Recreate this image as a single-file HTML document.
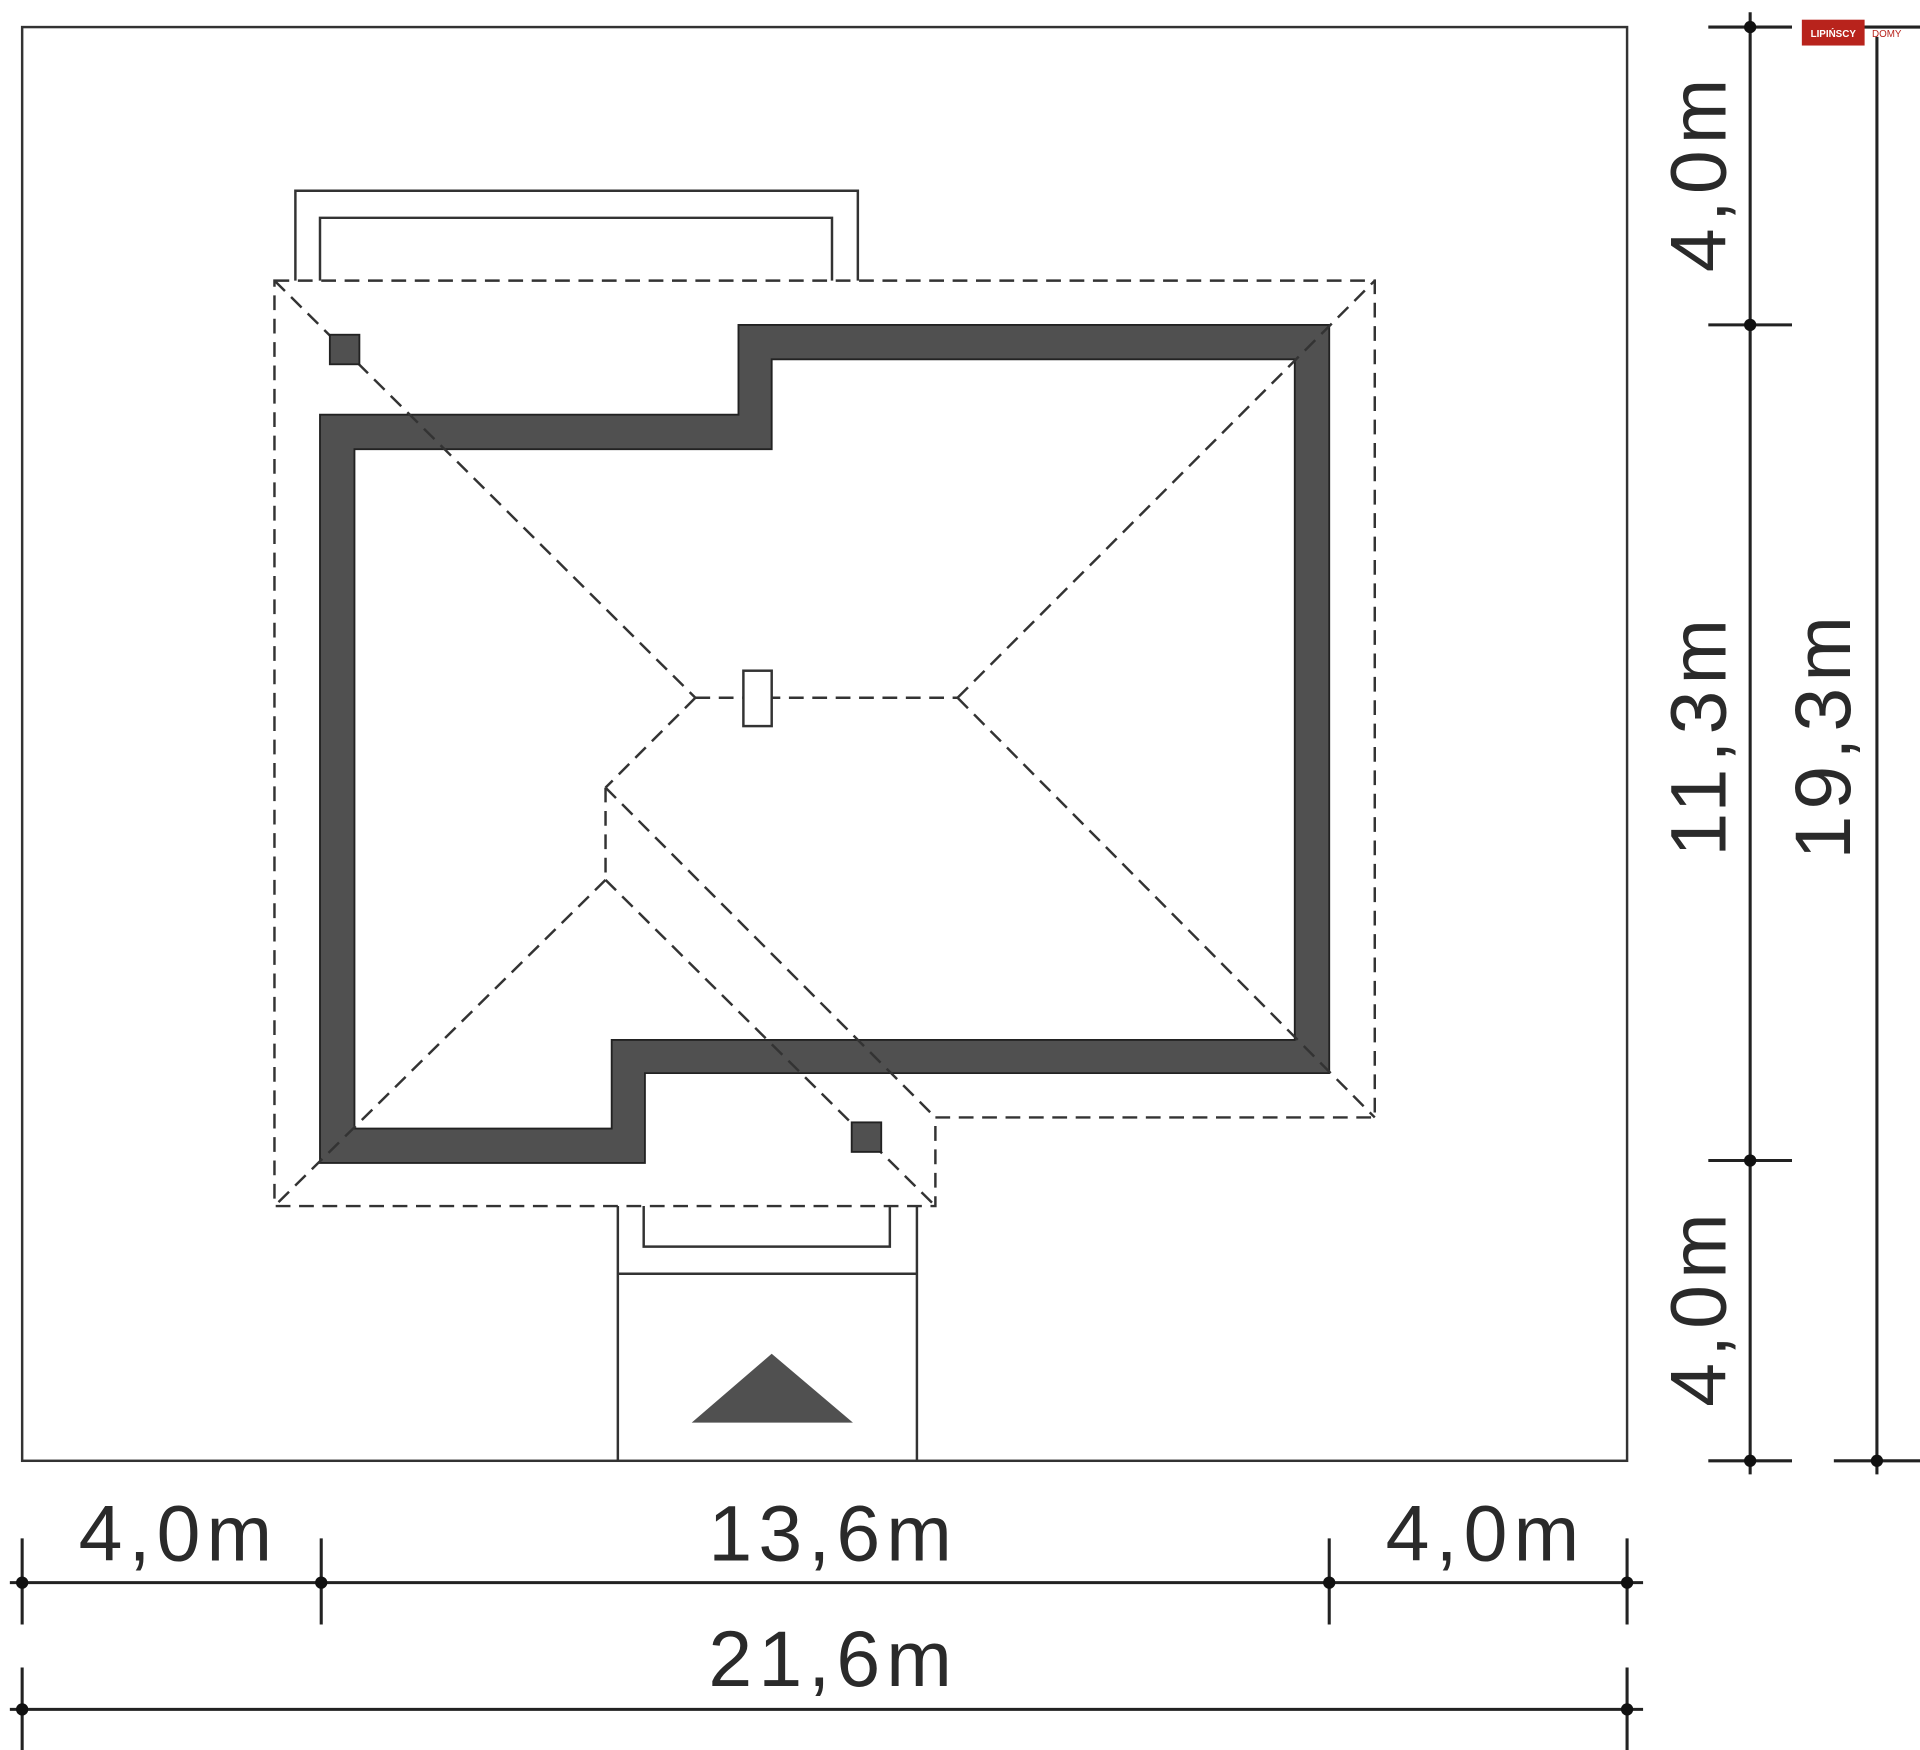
<!DOCTYPE html>
<html><head><meta charset="utf-8"><style>html,body{margin:0;padding:0;background:#fff}svg{display:block}</style></head>
<body>
<svg width="1920" height="1750" viewBox="0 0 1560 1422" preserveAspectRatio="none" xmlns="http://www.w3.org/2000/svg">
<g fill="none" stroke="#333" stroke-width="2">
<rect x="18" y="22" width="1304" height="1165"/>
<polyline points="240,228 240,155 697,155 697,228"/>
<polyline points="260,228 260,177 676,177 676,228"/>
<line x1="502" y1="980" x2="502" y2="1187"/>
<line x1="745" y1="980" x2="745" y2="1187"/>
<line x1="502" y1="1035" x2="745" y2="1035"/>
<polyline points="523,980 523,1013 723,1013 723,980"/>
</g>
<path fill="#505050" stroke="#222" stroke-width="1.5" fill-rule="evenodd" d="M260,337 L600,337 L600,264 L1080,264 L1080,872 L524,872 L524,945 L260,945 Z M288,365 L288,917 L497,917 L497,845 L1052,845 L1052,292 L627,292 L627,365 Z"/>
<g fill="none" stroke="#333" stroke-width="2" stroke-dasharray="12,7">
<polygon points="223,228 1117,228 1117,908 760,908 760,980 223,980"/>
<line x1="223" y1="228" x2="565" y2="567"/>
<line x1="565" y1="567" x2="778" y2="567"/>
<line x1="778" y1="567" x2="1117" y2="228"/>
<line x1="778" y1="567" x2="1117" y2="908"/>
<line x1="565" y1="567" x2="492" y2="640"/>
<line x1="492" y1="640" x2="492" y2="715"/>
<line x1="492" y1="715" x2="223" y2="980"/>
<line x1="492" y1="640" x2="760" y2="908"/>
<line x1="492" y1="715" x2="760" y2="980"/>
</g>
<rect x="268" y="272" width="24" height="24" fill="#505050" stroke="#222" stroke-width="1.5"/>
<rect x="692" y="912" width="24" height="24" fill="#505050" stroke="#222" stroke-width="1.5"/>
<rect x="604" y="545" width="23" height="45" fill="#fff" stroke="#333" stroke-width="2"/>
<polygon points="562,1156 693,1156 627,1100" fill="#505050"/>
<g stroke="#222" stroke-width="2.5">
<line x1="8" y1="1286" x2="1335" y2="1286"/>
<line x1="18" y1="1250" x2="18" y2="1320"/><line x1="261" y1="1250" x2="261" y2="1320"/>
<line x1="1080" y1="1250" x2="1080" y2="1320"/><line x1="1322" y1="1250" x2="1322" y2="1320"/>
<line x1="8" y1="1389" x2="1335" y2="1389"/>
<line x1="18" y1="1355" x2="18" y2="1422"/><line x1="1322" y1="1355" x2="1322" y2="1422"/>
<line x1="1422" y1="10" x2="1422" y2="1198"/>
<line x1="1388" y1="22" x2="1456" y2="22"/><line x1="1388" y1="264" x2="1456" y2="264"/>
<line x1="1388" y1="943" x2="1456" y2="943"/><line x1="1388" y1="1187" x2="1456" y2="1187"/>
<line x1="1525" y1="30" x2="1525" y2="1198"/>
<line x1="1490" y1="22" x2="1560" y2="22"/><line x1="1490" y1="1187" x2="1560" y2="1187"/>
</g>
<g fill="#111">
<circle cx="18" cy="1286" r="5"/><circle cx="261" cy="1286" r="5"/><circle cx="1080" cy="1286" r="5"/><circle cx="1322" cy="1286" r="5"/>
<circle cx="18" cy="1389" r="5"/><circle cx="1322" cy="1389" r="5"/>
<circle cx="1422" cy="22" r="5"/><circle cx="1422" cy="264" r="5"/><circle cx="1422" cy="943" r="5"/><circle cx="1422" cy="1187" r="5"/>
<circle cx="1525" cy="1187" r="5"/>
</g>
<g font-family="Liberation Sans, sans-serif" font-size="64" fill="#2a2a2a" text-anchor="middle" letter-spacing="5">
<text x="145" y="1268">4,0m</text>
<text x="677" y="1268">13,6m</text>
<text x="1207" y="1268">4,0m</text>
<text x="677" y="1370">21,6m</text>
<text transform="translate(1402,140) rotate(-90)">4,0m</text>
<text transform="translate(1402,597) rotate(-90)">11,3m</text>
<text transform="translate(1402,1062) rotate(-90)">4,0m</text>
<text transform="translate(1503,597) rotate(-90)">19,3m</text>
</g>
<rect x="1464" y="16" width="51" height="21" fill="#b8231c"/>
<text x="1489.5" y="30" font-family="Liberation Sans, sans-serif" font-size="8" font-weight="bold" fill="#fff" text-anchor="middle">LIPIŃSCY</text>
<text x="1533" y="30" font-family="Liberation Sans, sans-serif" font-size="8" fill="#b8231c" text-anchor="middle">DOMY</text>
</svg>
</body></html>
